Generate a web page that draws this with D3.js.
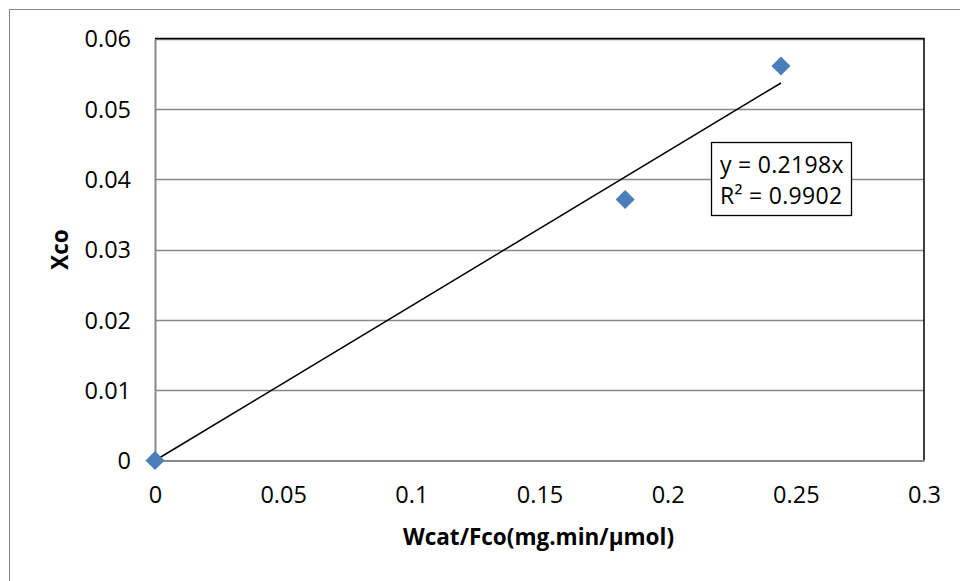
<!DOCTYPE html>
<html><head><meta charset="utf-8">
<script src="https://cdn.jsdelivr.net/npm/d3@7"></script>
<style>body{margin:0;background:#fff}svg{display:block}text{font-family:"Open Sans","Noto Sans",sans-serif}</style>
</head><body>
<script>
const xData = [0, 0.1834, 0.2442];
const yData = [0, 0.0371, 0.0561];
const slope = 0.2198;
const xTicks = [0, 0.05, 0.1, 0.15, 0.2, 0.25, 0.3];
const yTicks = [0, 0.01, 0.02, 0.03, 0.04, 0.05, 0.06];
const eqLines = ["y = 0.2198x", "R² = 0.9902"];

const W = 960, H = 581;
const svg = d3.select("body").append("svg").attr("width", W).attr("height", H);
svg.append("rect").attr("x", 9.5).attr("y", 9.5).attr("width", W + 20).attr("height", H + 20)
  .attr("fill", "#fff").attr("stroke", "#888").attr("stroke-width", 1);

const L = 155, R = 924, T = 38.5, B = 460.5;
const x = d3.scaleLinear().domain([0, 0.3]).range([L, R]);
const y = d3.scaleLinear().domain([0, 0.06]).range([B, T]);

// gridlines
svg.append("g").selectAll("line").data(yTicks.filter(d => d > 0)).join("line")
  .attr("x1", L).attr("x2", R).attr("y1", d => Math.round(y(d)) + 0.5).attr("y2", d => Math.round(y(d)) + 0.5)
  .attr("stroke", "#888").attr("stroke-width", 1.3);
// plot border top/right
svg.append("path").attr("d", `M${L},${T}H${R}V${B}`).attr("fill", "none").attr("stroke", "#000").attr("stroke-width", 1.5);

// axes
const fmt = d => d === 0 ? "0" : String(+d.toFixed(2));
const gx = svg.append("g").attr("transform", `translate(0,${B})`)
  .call(d3.axisBottom(x).tickValues(xTicks).tickFormat(fmt).tickSize(0).tickPadding(26));
const gy = svg.append("g").attr("transform", `translate(${L},0)`)
  .call(d3.axisLeft(y).tickValues(yTicks).tickFormat(fmt).tickSize(0).tickPadding(24));
[gx, gy].forEach(g => {
  g.select(".domain").attr("stroke", "#888").attr("stroke-width", 2);
  g.selectAll("text").attr("font-size", 23.5).attr("fill", "#000");
});
gy.selectAll("text").attr("dy", "0.36em");
gx.selectAll("text").attr("dy", "0.71em");

// trendline
svg.append("line")
  .attr("x1", x(0)).attr("y1", y(0))
  .attr("x2", x(d3.max(xData))).attr("y2", y(slope * d3.max(xData)))
  .attr("stroke", "#000").attr("stroke-width", 1.5);

// markers
const pts = xData.map((v, i) => [v, yData[i]]);
svg.append("g").selectAll("path").data(pts).join("path")
  .attr("transform", d => `translate(${x(d[0])},${y(d[1])})`)
  .attr("d", "M0,-9.5L9.5,0L0,9.5L-9.5,0Z")
  .attr("fill", "#4a7ebb");

// equation box
svg.append("rect").attr("x", 711.5).attr("y", 142.5).attr("width", 140).attr("height", 73)
  .attr("fill", "#fff").attr("stroke", "#000").attr("stroke-width", 1.3);
svg.append("g").selectAll("text").data(eqLines).join("text")
  .attr("x", 720).attr("y", (d, i) => 173 + i * 31)
  .attr("font-size", 23).attr("letter-spacing", 0.3).attr("fill", "#000").text(d => d);

// axis titles
svg.append("text").attr("x", (L + R) / 2 - 1).attr("y", 545).attr("text-anchor", "middle")
  .attr("font-size", 22.5).attr("font-weight", "bold").text("Wcat/Fco(mg.min/μmol)");
svg.append("text").attr("transform", `translate(68,${(T + B) / 2}) rotate(-90)`).attr("text-anchor", "middle")
  .attr("font-size", 22.5).attr("font-weight", "bold").text("Xco");
</script>
</body></html>
